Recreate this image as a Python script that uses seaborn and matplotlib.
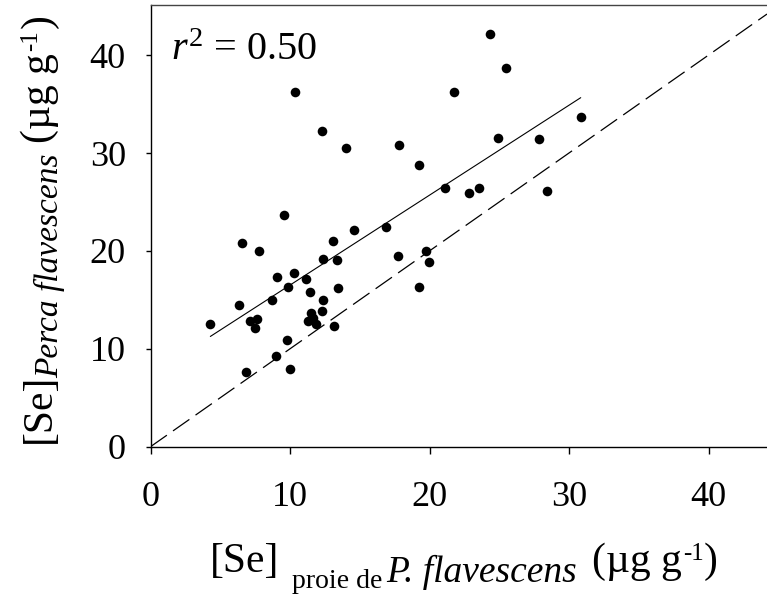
import numpy as np
import pandas as pd
import matplotlib
matplotlib.use("Agg")
import matplotlib.pyplot as plt
import seaborn as sns

# Data
prey_se = [24.34, 25.46, 10.38, 21.73, 30.84, 12.32, 13.99, 17.84, 24.89, 27.83,
           19.25, 21.14, 22.86, 23.52, 28.40, 9.55, 14.59, 16.86, 6.58, 7.78,
           13.06, 12.39, 13.39, 17.77, 19.77, 19.99, 9.09, 10.26, 11.17, 9.88,
           11.46, 13.42, 19.25, 6.37, 8.69, 12.37, 4.29, 7.16, 7.63, 7.49,
           11.48, 12.27, 11.27, 11.67, 11.89, 13.15, 9.79, 8.97, 6.87, 10.00]
perch_se = [42.19, 38.71, 36.26, 36.26, 33.64, 32.21, 30.51, 30.78, 31.56, 31.46,
            28.80, 26.46, 25.94, 26.42, 26.15, 23.63, 22.10, 22.40, 20.84, 19.95,
            21.01, 19.20, 19.03, 19.51, 20.02, 18.83, 17.30, 17.71, 17.09, 16.31,
            15.83, 16.24, 16.31, 14.50, 15.02, 15.02, 12.50, 12.87, 13.01, 12.09,
            13.69, 13.82, 12.80, 13.11, 12.53, 12.33, 10.90, 9.30, 7.59, 7.93]
tick_values = [0, 10, 20, 30, 40]
r2_text = "0.50"

df = pd.DataFrame({"prey": prey_se, "perch": perch_se})

sns.set_theme(style="ticks")
plt.rcParams["font.family"] = ["Liberation Serif", "DejaVu Serif"]
plt.rcParams["mathtext.fontset"] = "custom"
plt.rcParams["mathtext.rm"] = "Liberation Serif"
plt.rcParams["mathtext.it"] = "Liberation Serif:italic"
plt.rcParams["mathtext.bf"] = "Liberation Serif:bold"

W, H = 767, 594
fig = plt.figure(figsize=(W / 100, H / 100), dpi=100)
ax_left, ax_bottom_px, ax_top_px = 150.5, 446.7, 5.0
ax = fig.add_axes([ax_left / W, 1 - ax_bottom_px / H, 1 - ax_left / W,
                   (ax_bottom_px - ax_top_px) / H])

sns.regplot(data=df, x="prey", y="perch", ax=ax, ci=None, color="black",
            scatter_kws=dict(s=48, linewidths=0, alpha=1),
            line_kws=dict(lw=0.8, color="black"))

# 1:1 reference line
ax.axline((0, 0), slope=1, color="black", lw=0.9, linestyle=(0, (16, 6)))

ax.set_xlim(0, (W - ax_left) / 13.95)
ax.set_ylim(0, (ax_bottom_px - ax_top_px) / 9.79)
ax.set_xticks(tick_values)
ax.set_yticks(tick_values)
ax.set_xticklabels([str(v) for v in tick_values])
ax.set_yticklabels([str(v) for v in tick_values])
ax.tick_params(direction="out", width=1, labelsize=26,
               color="black", labelcolor="black")
ax.tick_params(axis="x", length=4.8, pad=20)
ax.tick_params(axis="y", length=3.8, pad=14)
ax.set_xlabel("")
ax.set_ylabel("")

ax.spines["right"].set_visible(False)
for s in ["left", "bottom", "top"]:
    ax.spines[s].set_linewidth(1.0)
    ax.spines[s].set_color("black")
ax.spines["top"].set_color("#444444")

# r^2 annotation
ax.text(1.5, 39.5, r"$\mathit{r}^{2}$ = " + r2_text, fontsize=29, va="baseline",
        ha="left", color="black")

# ---- axis titles composed of pieces (main text, large subscripts, superscript)
renderer = fig.canvas.get_renderer()


def put(s, x_px, y_px, size, style="normal", rot=0):
    return fig.text(x_px / W, 1 - y_px / H, s, fontsize=size, fontstyle=style,
                    rotation=rot, rotation_mode="anchor", ha="left",
                    va="baseline", color="black")


# x axis title
put("[Se]", 210, 572.3, 30)
put("proie de", 291.7, 588, 20)
put("P. flavescens", 386.7, 581.5, 27, "italic")
put("(µg g", 591.7, 572.3, 30)
put("-1", 683.3, 560, 18)
put(")", 703.3, 572.3, 30)

# y axis title (rotated, chained from the bottom upwards)
y_cur = 443.0
t = put("[Se]", 50, y_cur, 30, rot=90)
y_cur -= t.get_window_extent(renderer).height - 4
t = put("Perca flavescens", 58, y_cur, 24, "italic", rot=90)
y_cur -= t.get_window_extent(renderer).height + 10
t = put("(µg g", 50, y_cur, 30, rot=90)
y_cur -= t.get_window_extent(renderer).height + 2
t = put("-1", 37.5, y_cur, 18, rot=90)
y_cur -= t.get_window_extent(renderer).height + 3
put(")", 50, y_cur, 30, rot=90)

fig.savefig("out.png", dpi=100)
